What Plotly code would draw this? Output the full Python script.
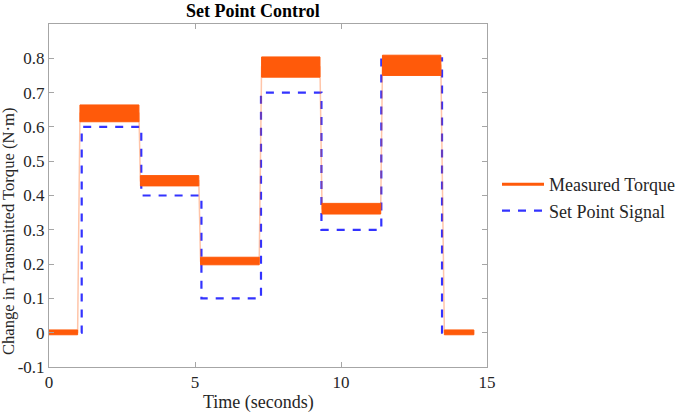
import plotly.graph_objects as go

# Measured torque: steady-state bands (noisy region), per segment
seg_start = [0.00, 1.06, 3.13, 5.19, 7.28, 9.35, 11.42, 13.54]
seg_end   = [0.98, 3.08, 5.13, 7.20, 9.28, 11.36, 13.42, 14.55]
band_low  = [-0.006, 0.615, 0.428, 0.198, 0.745, 0.346, 0.750, -0.006]
band_high = [0.008, 0.664, 0.458, 0.220, 0.804, 0.377, 0.809, 0.008]

# Set point signal (step changes)
sp_times  = [0.00, 1.12, 3.16, 5.22, 7.26, 9.33, 11.38, 13.46, 14.55]
sp_levels = [0.0, 0.6, 0.4, 0.1, 0.7, 0.3, 0.8, 0.0, 0.0]

x_ticks = [0, 5, 10, 15]
y_ticks = [-0.1, 0, 0.1, 0.2, 0.3, 0.4, 0.5, 0.6, 0.7, 0.8]

ORANGE = "#ff5a0a"
BLUE = "#3333ff"
FONT = "Liberation Serif, Times New Roman, serif"

fig = go.Figure()

# Set point (drawn first, under the torque bands)
fig.add_trace(go.Scatter(
    x=sp_times, y=sp_levels, mode="lines", line_shape="hv",
    line=dict(color=BLUE, width=2.2, dash="8px,8px"),
    name="Set Point Signal", legendrank=2,
))

# thin transition line through band centres
cx, cy = [], []
for s, e, lo, hi in zip(seg_start, seg_end, band_low, band_high):
    m = (lo + hi) / 2
    cx += [s, e]
    cy += [m, m]
fig.add_trace(go.Scatter(
    x=cx, y=cy, mode="lines",
    line=dict(color="rgba(255,90,10,0.35)", width=1.5),
    showlegend=False, hoverinfo="skip",
))

# torque bands
for s, e, lo, hi in zip(seg_start, seg_end, band_low, band_high):
    fig.add_trace(go.Scatter(
        x=[s, e, e, s, s], y=[lo, lo, hi, hi, lo], mode="lines",
        fill="toself", fillcolor=ORANGE,
        line=dict(color=ORANGE, width=1),
        showlegend=False, hoverinfo="skip",
    ))

# legend entry for measured torque
fig.add_trace(go.Scatter(
    x=[None], y=[None], mode="lines",
    line=dict(color=ORANGE, width=3),
    name="Measured Torque", legendrank=1,
))

axis_common = dict(
    showgrid=False, zeroline=False, showline=True, linecolor="#a6a6a6",
    linewidth=1, mirror="ticks", ticks="inside", ticklen=5, tickcolor="#a6a6a6",
    tickfont=dict(family=FONT, size=17, color="#262626"), automargin=False,
)

fig.update_layout(
    width=678, height=414,
    margin=dict(l=49, r=191, t=24, b=47, autoexpand=False),
    paper_bgcolor="white", plot_bgcolor="white",
    showlegend=True,
    xaxis=dict(range=[0, 15], tickvals=x_ticks, ticktext=[str(v) for v in x_ticks], **axis_common),
    yaxis=dict(range=[-0.1, 0.9], tickvals=y_ticks, ticktext=[f"{v:g}" for v in y_ticks], **axis_common),
    legend=dict(
        xref="container", yref="container",
        x=497 / 678, xanchor="left", y=1 - 197.5 / 414, yanchor="middle",
        font=dict(family=FONT, size=18, color="#262626"),
        bgcolor="rgba(0,0,0,0)", itemwidth=42, tracegroupgap=0,
    ),
    annotations=[
        dict(text="<b>Set Point Control</b>", xref="paper", yref="paper",
             x=(252.5 - 49) / 438, y=1.0, yshift=13, xanchor="center", yanchor="middle",
             showarrow=False, font=dict(family=FONT, size=18, color="black")),
        dict(text="Time (seconds)", xref="paper", yref="paper",
             x=(258 - 49) / 438, y=0, yshift=-35, xanchor="center", yanchor="middle",
             showarrow=False, font=dict(family=FONT, size=18, color="#262626")),
        dict(text="Change in Transmitted Torque (N·m)", xref="paper", yref="paper",
             x=0, xshift=-41, y=(367 - 232) / 343, xanchor="center", yanchor="middle",
             textangle=-90, showarrow=False,
             font=dict(family=FONT, size=16.6, color="#262626")),
    ],
)

fig.write_html("out.html", config={"displayModeBar": False},
               post_script="document.body.style.margin='0';")
